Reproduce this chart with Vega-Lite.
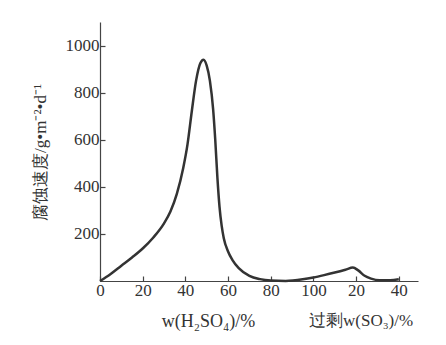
{
  "$schema": "https://vega.github.io/schema/vega-lite/v6.json",
  "autosize": "none",
  "width": 318,
  "height": 259,
  "padding": {"left": 100, "top": 22, "right": 28, "bottom": 64},
  "background": "#ffffff",
  "config": {
    "view": {"stroke": null},
    "font": "Times New Roman",
    "axis": {"domainColor": "#444", "domainWidth": 1.2, "tickColor": "#444", "tickWidth": 1.2, "labelColor": "#333", "titleColor": "#333", "grid": false, "labelFont": "Times New Roman", "labelFontSize": 17, "titleFontWeight": "normal"}
  },
  "title": {"text": "过剩w(SO₃)/%", "orient": "bottom", "anchor": "start", "dx": 278, "dy": -17, "fontSize": 17, "fontWeight": "normal", "color": "#333", "font": "Times New Roman", "offset": 0},
  "data": {"values": [
    {"x": 0, "y": 0}, {"x": 5, "y": 30}, {"x": 10, "y": 65}, {"x": 15, "y": 100},
    {"x": 20, "y": 138}, {"x": 25, "y": 185}, {"x": 30, "y": 245}, {"x": 33, "y": 295},
    {"x": 36, "y": 370}, {"x": 39, "y": 480}, {"x": 41, "y": 580}, {"x": 43, "y": 720},
    {"x": 45, "y": 850}, {"x": 47, "y": 925}, {"x": 48.5, "y": 940}, {"x": 50, "y": 915},
    {"x": 51.5, "y": 850}, {"x": 53, "y": 730}, {"x": 54, "y": 600}, {"x": 55, "y": 440},
    {"x": 56, "y": 315}, {"x": 57, "y": 235}, {"x": 58, "y": 182}, {"x": 60, "y": 125},
    {"x": 62, "y": 90}, {"x": 65, "y": 55}, {"x": 70, "y": 22}, {"x": 75, "y": 8},
    {"x": 80, "y": 2}, {"x": 87, "y": 0}, {"x": 95, "y": 7}, {"x": 100, "y": 15},
    {"x": 105, "y": 25}, {"x": 110, "y": 36}, {"x": 115, "y": 48}, {"x": 118.5, "y": 57},
    {"x": 121, "y": 45}, {"x": 124, "y": 22}, {"x": 127, "y": 10}, {"x": 131, "y": 3},
    {"x": 136, "y": 3}, {"x": 140, "y": 7}
  ]},
  "mark": {"type": "line", "interpolate": "monotone", "color": "#333", "strokeWidth": 2.5},
  "encoding": {
    "x": {"field": "x", "type": "quantitative",
      "scale": {"domain": [0, 149], "nice": false, "zero": true},
      "axis": {"values": [0, 20, 40, 60, 80, 100, 120, 140], "labelExpr": "datum.value > 100 ? datum.value - 100 : datum.value", "tickSize": -5, "labelPadding": 6, "labelFlush": false, "labelFont": "Times New Roman", "labelFontSize": 17,
        "title": "w(H₂SO₄)/%", "titleFontSize": 18, "titleX": 108, "titleY": 45, "titleBaseline": "alphabetic", "titleFont": "Times New Roman"}},
    "y": {"field": "y", "type": "quantitative",
      "scale": {"domain": [0, 1100], "nice": false},
      "axis": {"values": [200, 400, 600, 800, 1000], "format": "d", "tickSize": -5, "labelPadding": 6, "labelFont": "Times New Roman", "labelFontSize": 17,
        "title": "腐蚀速度/g•m⁻²•d⁻¹", "titleFontSize": 17, "titleX": -60, "titleY": 130, "titleAngle": -90, "titleBaseline": "middle", "titleFont": "Times New Roman"}}
  }
}
